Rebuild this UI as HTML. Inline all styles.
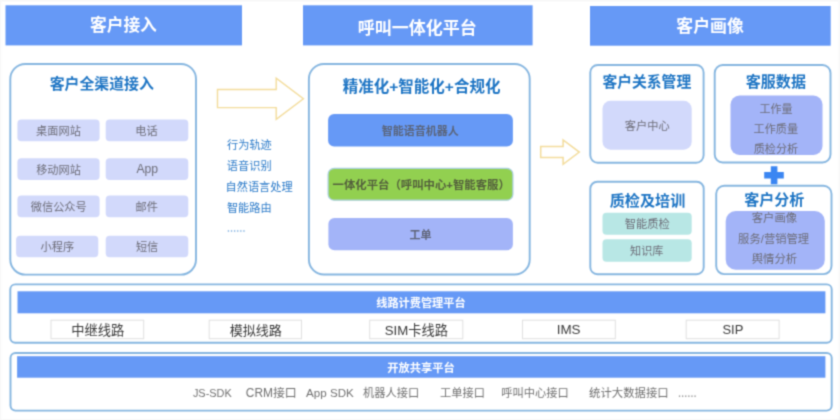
<!DOCTYPE html>
<html lang="zh-CN">
<head>
<meta charset="utf-8">
<title>呼叫一体化平台架构</title>
<style>
html,body{margin:0;padding:0;background:#fff;}
body{width:840px;height:420px;position:relative;overflow:hidden;font-family:"Liberation Sans",sans-serif;}
#stage{position:absolute;left:0;top:0;width:840px;height:420px;overflow:hidden;filter:url(#bl);}
.b{position:absolute;box-sizing:content-box;}
.t{position:absolute;white-space:nowrap;color:transparent;line-height:1;font-family:"Liberation Sans",sans-serif;}
svg.ov{position:absolute;left:0;top:0;width:840px;height:420px;overflow:visible;}
svg.ov text{font-family:"Liberation Sans","Noto Sans CJK SC",sans-serif;white-space:pre;}
</style>
</head>
<body>
<svg width="0" height="0" style="position:absolute"><defs><filter id="bl" x="0" y="0" width="100%" height="100%" color-interpolation-filters="sRGB"><feConvolveMatrix order="3" kernelMatrix="0.0361 0.1178 0.0361 0.1178 0.3846 0.1178 0.0361 0.1178 0.0361" edgeMode="duplicate" preserveAlpha="false"/></filter></defs></svg>
<div id="stage">
<svg class="ov" viewBox="0 0 840 420" width="840" height="420">
<rect x="5.50" y="5.30" width="236.50" height="40.10" fill="#6699f6"/>
<rect x="303.00" y="5.30" width="229.60" height="40.10" fill="#6699f6"/>
<rect x="590.00" y="6.00" width="240.70" height="39.70" fill="#6699f6"/>
<rect x="10.30" y="64.00" width="185.70" height="210.60" rx="15.0" fill="#fff" stroke="#86b6e0" stroke-width="1.90"/>
<rect x="17.40" y="119.50" width="82.20" height="21.80" rx="4.0" fill="#d2d9fb"/>
<rect x="105.70" y="119.50" width="82.60" height="21.80" rx="4.0" fill="#d2d9fb"/>
<rect x="17.40" y="158.20" width="82.20" height="21.90" rx="4.0" fill="#d2d9fb"/>
<rect x="105.70" y="158.20" width="82.60" height="21.90" rx="4.0" fill="#d2d9fb"/>
<rect x="17.40" y="195.50" width="82.20" height="21.70" rx="4.0" fill="#d2d9fb"/>
<rect x="105.70" y="195.50" width="82.60" height="21.70" rx="4.0" fill="#d2d9fb"/>
<rect x="16.10" y="235.80" width="82.20" height="21.40" rx="4.0" fill="#d2d9fb"/>
<rect x="105.70" y="235.80" width="82.60" height="21.40" rx="4.0" fill="#d2d9fb"/>
<rect x="308.90" y="64.00" width="220.80" height="210.50" rx="15.0" fill="#fff" stroke="#86b6e0" stroke-width="1.90"/>
<rect x="328.10" y="114.00" width="184.80" height="32.40" rx="6.0" fill="#6699f6"/>
<rect x="328.10" y="168.40" width="184.80" height="31.80" rx="6.0" fill="#92d050" stroke="#a9cfe0" stroke-width="1.20"/>
<rect x="328.40" y="218.00" width="184.50" height="32.30" rx="6.0" fill="#a3b4f8"/>
<rect x="590.30" y="65.00" width="113.30" height="97.80" rx="7.5" fill="#fff" stroke="#86b6e0" stroke-width="1.90"/>
<rect x="602.50" y="100.80" width="89.20" height="48.90" rx="8.0" fill="#d2d9fb"/>
<rect x="714.70" y="65.00" width="115.80" height="97.50" rx="8.0" fill="#fff" stroke="#86b6e0" stroke-width="1.90"/>
<rect x="730.50" y="95.50" width="92.00" height="59.50" rx="9.0" fill="#a3b4f8"/>
<rect x="590.30" y="181.70" width="113.40" height="92.50" rx="7.0" fill="#fff" stroke="#86b6e0" stroke-width="1.90"/>
<rect x="602.50" y="212.80" width="89.20" height="21.90" rx="4.0" fill="#b8e7e5"/>
<rect x="602.50" y="239.20" width="89.20" height="22.50" rx="4.0" fill="#b8e7e5"/>
<rect x="716.20" y="185.80" width="115.30" height="88.30" rx="8.0" fill="#fff" stroke="#86b6e0" stroke-width="1.90"/>
<rect x="725.70" y="211.10" width="99.10" height="58.70" rx="10.0" fill="#a3b4f8"/>
<rect x="10.30" y="284.40" width="821.40" height="58.40" rx="5.0" fill="#fff" stroke="#86b6e0" stroke-width="1.90"/>
<rect x="17.50" y="291.30" width="807.90" height="22.00" fill="#6699f6"/>
<rect x="51.00" y="320.20" width="92.70" height="18.50" fill="#fff" stroke="#e0e0e0" stroke-width="1.00"/>
<rect x="209.20" y="320.20" width="92.30" height="18.50" fill="#fff" stroke="#e0e0e0" stroke-width="1.00"/>
<rect x="369.70" y="320.20" width="93.10" height="18.50" fill="#fff" stroke="#e0e0e0" stroke-width="1.00"/>
<rect x="522.50" y="320.20" width="92.80" height="18.50" fill="#fff" stroke="#e0e0e0" stroke-width="1.00"/>
<rect x="686.20" y="320.20" width="92.90" height="18.50" fill="#fff" stroke="#e0e0e0" stroke-width="1.00"/>
<rect x="10.50" y="353.00" width="821.20" height="57.60" rx="5.0" fill="#fff" stroke="#86b6e0" stroke-width="1.90"/>
<rect x="17.10" y="356.20" width="808.30" height="21.50" fill="#6699f6"/>
<path d="M0 0H840V420H0ZM1.2 1.5V419H838.6V1.5Z" fill="#f8f8f8" fill-rule="evenodd"/>
<path d="M217.5 89.5H276.2V78.1L303.4 98.7L276.2 119.4V107.6H217.5Z" fill="none" stroke="#f3dc9b" stroke-width="1.4" stroke-linejoin="miter"/>
<path d="M540.7 146.4H563.1V140L579.3 152.1L563.1 164.3V157.4H540.7Z" fill="none" stroke="#f3dc9b" stroke-width="1.5" stroke-linejoin="miter"/>
<path d="M764.2 171.9H783.8V178.4H764.2ZM770.8 166.3H777.4V184.2H770.8Z" fill="#3b86f2"/>
<rect x="227.8" y="230.2" width="1.3" height="1.6" fill="#7fb0e0"/>
<rect x="678.9" y="395.4" width="1.3" height="1.6" fill="#9a9a9a"/>
<rect x="230.9" y="230.2" width="1.3" height="1.6" fill="#7fb0e0"/>
<rect x="682.0" y="395.4" width="1.3" height="1.6" fill="#9a9a9a"/>
<rect x="234.0" y="230.2" width="1.3" height="1.6" fill="#7fb0e0"/>
<rect x="685.1" y="395.4" width="1.3" height="1.6" fill="#9a9a9a"/>
<rect x="237.1" y="230.2" width="1.3" height="1.6" fill="#7fb0e0"/>
<rect x="688.2" y="395.4" width="1.3" height="1.6" fill="#9a9a9a"/>
<rect x="240.2" y="230.2" width="1.3" height="1.6" fill="#7fb0e0"/>
<rect x="691.3" y="395.4" width="1.3" height="1.6" fill="#9a9a9a"/>
<rect x="243.3" y="230.2" width="1.3" height="1.6" fill="#7fb0e0"/>
<rect x="694.4" y="395.4" width="1.3" height="1.6" fill="#9a9a9a"/>
<text x="89.95" y="31.15" font-size="16.73" font-weight="bold" fill="#fff">客户接入</text>
<text x="357.79" y="33.59" font-size="17" font-weight="bold" fill="#fff">呼叫一体化平台</text>
<text x="676.34" y="31.91" font-size="16.89" font-weight="bold" fill="#fff">客户画像</text>
<text x="49.70" y="88.90" font-size="14.89" font-weight="bold" fill="#1e75c4">客户全渠道接入</text>
<text x="36.12" y="134.96" font-size="11.2" fill="#6d6d78">桌面网站</text>
<text x="135.32" y="134.94" font-size="11.2" fill="#6d6d78">电话</text>
<text x="36.14" y="173.69" font-size="11.2" fill="#6d6d78">移动网站</text>
<text x="136.39" y="173.48" font-size="12.2" fill="#6d6d78">App</text>
<text x="30.78" y="210.92" font-size="11.2" fill="#6d6d78">微信公众号</text>
<text x="135.59" y="210.90" font-size="11.2" fill="#6d6d78">邮件</text>
<text x="40.50" y="251.07" font-size="11.2" fill="#6d6d78">小程序</text>
<text x="135.89" y="251.04" font-size="11.2" fill="#6d6d78">短信</text>
<text x="227.06" y="149.26" font-size="11.2" fill="#2a7ac9">行为轨迹</text>
<text x="226.84" y="170.28" font-size="11.2" fill="#2a7ac9">语音识别</text>
<text x="225.56" y="191.29" font-size="11.2" fill="#2a7ac9">自然语言处理</text>
<text x="226.90" y="211.78" font-size="11.2" fill="#2a7ac9">智能路由</text>
<text x="342.72" y="92.44" font-size="15.52" font-weight="bold" fill="#1e75c4">精准化+智能化+合规化</text>
<text x="381.77" y="134.63" font-size="11" font-weight="bold" fill="#5a6479">智能语音机器人</text>
<text x="332.57" y="188.71" font-size="11.38" font-weight="bold" fill="#535f3c">一体化平台（呼叫中心+智能客服）</text>
<text x="409.40" y="239.19" font-size="11.05" font-weight="bold" fill="#5f6478">工单</text>
<text x="602.50" y="86.96" font-size="14.79" font-weight="bold" fill="#1e75c4">客户关系管理</text>
<text x="624.71" y="129.69" font-size="11.24" fill="#6d6d78">客户中心</text>
<text x="745.79" y="87.08" font-size="15.05" font-weight="bold" fill="#1e75c4">客服数据</text>
<text x="759.53" y="112.67" font-size="11.02" fill="#6d6d78">工作量</text>
<text x="753.52" y="133.22" font-size="11.15" fill="#6d6d78">工作质量</text>
<text x="753.70" y="153.34" font-size="11.1" fill="#6d6d78">质检分析</text>
<text x="609.75" y="205.82" font-size="15.1" font-weight="bold" fill="#1e75c4">质检及培训</text>
<text x="624.65" y="228.12" font-size="11.26" fill="#6d6d78">智能质检</text>
<text x="630.03" y="254.61" font-size="11.13" fill="#6d6d78">知识库</text>
<text x="744.19" y="204.94" font-size="15.02" font-weight="bold" fill="#1e75c4">客户分析</text>
<text x="751.80" y="221.71" font-size="11.31" fill="#6d6d78">客户画像</text>
<text x="738.12" y="242.91" font-size="11.32" fill="#6d6d78">服务/营销管理</text>
<text x="751.70" y="263.11" font-size="11.38" fill="#6d6d78">舆情分析</text>
<text x="376.30" y="306.72" font-size="11.16" font-weight="bold" fill="#fff">线路计费管理平台</text>
<text x="71.13" y="335.06" font-size="13.26" fill="#3a3a3a">中继线路</text>
<text x="229.68" y="334.98" font-size="13.07" fill="#3a3a3a">模拟线路</text>
<text x="384.76" y="335.04" font-size="13.23" fill="#3a3a3a">SIM卡线路</text>
<text x="556.66" y="334.12" font-size="13.42" fill="#3a3a3a">IMS</text>
<text x="722.41" y="333.98" font-size="13.01" fill="#3a3a3a">SIP</text>
<text x="387.22" y="371.75" font-size="11.26" font-weight="bold" fill="#fff">开放共享平台</text>
<text x="192.92" y="396.80" font-size="10.92" fill="#717171">JS-SDK</text>
<text x="245.81" y="397.31" font-size="11.91" fill="#717171">CRM接口</text>
<text x="306.05" y="397.00" font-size="11.62" fill="#717171">App SDK</text>
<text x="362.99" y="397.06" font-size="11.24" fill="#717171">机器人接口</text>
<text x="440.02" y="397.05" font-size="11.22" fill="#717171">工单接口</text>
<text x="501.36" y="397.05" font-size="11.22" fill="#717171">呼叫中心接口</text>
<text x="589.12" y="397.13" font-size="11.37" fill="#717171">统计大数据接口</text>
</svg>
<span class="t" style="left:89.9px;top:16.4px;font-size:16.7px;font-weight:bold;">客户接入</span>
<span class="t" style="left:357.8px;top:18.6px;font-size:17.0px;font-weight:bold;">呼叫一体化平台</span>
<span class="t" style="left:676.3px;top:17.0px;font-size:16.9px;font-weight:bold;">客户画像</span>
<span class="t" style="left:49.7px;top:75.8px;font-size:14.9px;font-weight:bold;">客户全渠道接入</span>
<span class="t" style="left:36.1px;top:125.1px;font-size:11.2px;">桌面网站</span>
<span class="t" style="left:135.3px;top:125.1px;font-size:11.2px;">电话</span>
<span class="t" style="left:36.1px;top:163.8px;font-size:11.2px;">移动网站</span>
<span class="t" style="left:136.4px;top:162.7px;font-size:12.2px;">App</span>
<span class="t" style="left:30.8px;top:201.1px;font-size:11.2px;">微信公众号</span>
<span class="t" style="left:135.6px;top:201.0px;font-size:11.2px;">邮件</span>
<span class="t" style="left:40.5px;top:241.2px;font-size:11.2px;">小程序</span>
<span class="t" style="left:135.9px;top:241.2px;font-size:11.2px;">短信</span>
<span class="t" style="left:227.1px;top:139.4px;font-size:11.2px;">行为轨迹</span>
<span class="t" style="left:226.8px;top:160.4px;font-size:11.2px;">语音识别</span>
<span class="t" style="left:225.6px;top:181.4px;font-size:11.2px;">自然语言处理</span>
<span class="t" style="left:226.9px;top:201.9px;font-size:11.2px;">智能路由</span>
<span class="t" style="left:342.7px;top:78.8px;font-size:15.5px;font-weight:bold;">精准化+智能化+合规化</span>
<span class="t" style="left:381.8px;top:125.0px;font-size:11.0px;font-weight:bold;">智能语音机器人</span>
<span class="t" style="left:332.6px;top:178.7px;font-size:11.4px;font-weight:bold;">一体化平台（呼叫中心+智能客服）</span>
<span class="t" style="left:409.4px;top:229.5px;font-size:11.0px;font-weight:bold;">工单</span>
<span class="t" style="left:602.5px;top:73.9px;font-size:14.8px;font-weight:bold;">客户关系管理</span>
<span class="t" style="left:624.7px;top:119.8px;font-size:11.2px;">客户中心</span>
<span class="t" style="left:745.8px;top:73.8px;font-size:15.0px;font-weight:bold;">客服数据</span>
<span class="t" style="left:759.5px;top:103.0px;font-size:11.0px;">工作量</span>
<span class="t" style="left:753.5px;top:123.4px;font-size:11.1px;">工作质量</span>
<span class="t" style="left:753.7px;top:143.6px;font-size:11.1px;">质检分析</span>
<span class="t" style="left:609.8px;top:192.5px;font-size:15.1px;font-weight:bold;">质检及培训</span>
<span class="t" style="left:624.6px;top:218.2px;font-size:11.3px;">智能质检</span>
<span class="t" style="left:630.0px;top:244.8px;font-size:11.1px;">知识库</span>
<span class="t" style="left:744.2px;top:191.7px;font-size:15.0px;font-weight:bold;">客户分析</span>
<span class="t" style="left:751.8px;top:211.8px;font-size:11.3px;">客户画像</span>
<span class="t" style="left:738.1px;top:232.9px;font-size:11.3px;">服务/营销管理</span>
<span class="t" style="left:751.7px;top:253.1px;font-size:11.4px;">舆情分析</span>
<span class="t" style="left:376.3px;top:296.9px;font-size:11.2px;font-weight:bold;">线路计费管理平台</span>
<span class="t" style="left:71.1px;top:323.4px;font-size:13.3px;">中继线路</span>
<span class="t" style="left:229.7px;top:323.5px;font-size:13.1px;">模拟线路</span>
<span class="t" style="left:384.8px;top:323.4px;font-size:13.2px;">SIM卡线路</span>
<span class="t" style="left:556.7px;top:322.3px;font-size:13.4px;">IMS</span>
<span class="t" style="left:722.4px;top:322.5px;font-size:13.0px;">SIP</span>
<span class="t" style="left:387.2px;top:361.8px;font-size:11.3px;font-weight:bold;">开放共享平台</span>
<span class="t" style="left:192.9px;top:387.2px;font-size:10.9px;">JS-SDK</span>
<span class="t" style="left:245.8px;top:386.8px;font-size:11.9px;">CRM接口</span>
<span class="t" style="left:306.1px;top:386.8px;font-size:11.6px;">App SDK</span>
<span class="t" style="left:363.0px;top:387.2px;font-size:11.2px;">机器人接口</span>
<span class="t" style="left:440.0px;top:387.2px;font-size:11.2px;">工单接口</span>
<span class="t" style="left:501.4px;top:387.2px;font-size:11.2px;">呼叫中心接口</span>
<span class="t" style="left:589.1px;top:387.1px;font-size:11.4px;">统计大数据接口</span>
</div>
</body>
</html>
